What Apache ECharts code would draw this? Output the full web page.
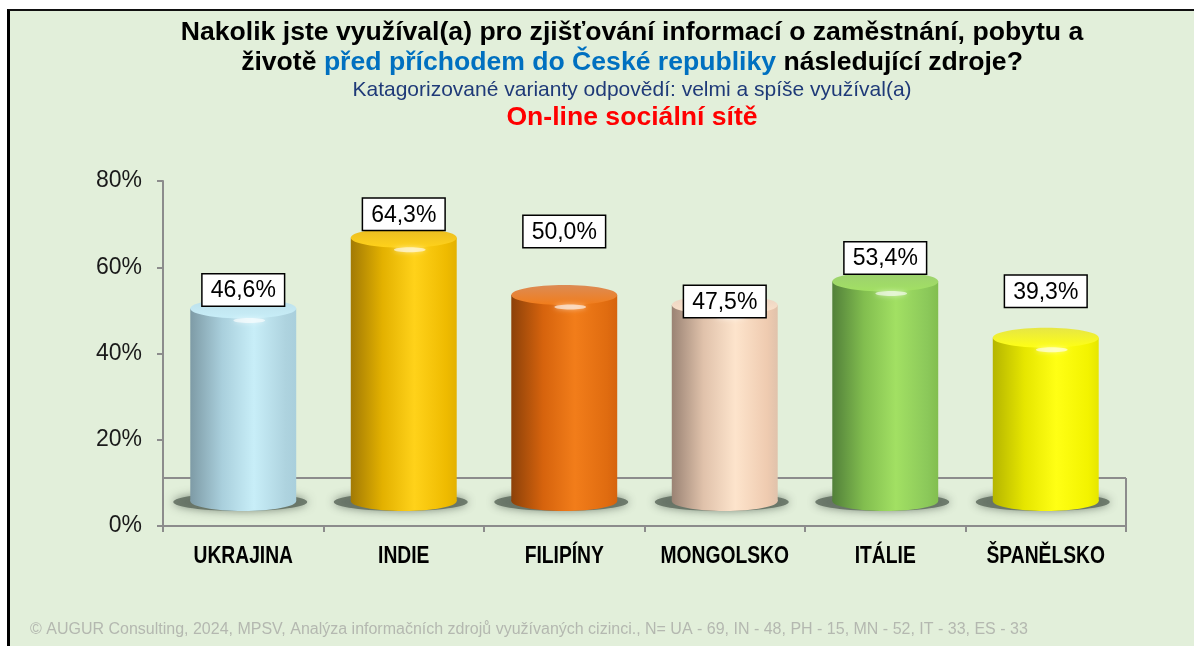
<!DOCTYPE html>
<html>
<head>
<meta charset="utf-8">
<script src="https://cdn.jsdelivr.net/npm/echarts@6/dist/echarts.min.js"></script>
<style>
  html, body { margin: 0; padding: 0; background: #fff; overflow: hidden; }
  #frame {
    position: absolute; left: 7px; top: 9px; width: 1200px; height: 650px;
    background: #e2efda; border-left: 3px solid #000; border-top: 2px solid #111;
  }
  #chart { position: absolute; left: 0; top: 0; width: 1194px; height: 646px; }
</style>
</head>
<body>
<div id="frame"></div>
<div id="chart"></div>
<script>
// data
const categories = ["UKRAJINA", "INDIE", "FILIPÍNY", "MONGOLSKO", "ITÁLIE", "ŠPANĚLSKO"];
const values = [46.6, 64.3, 50.0, 47.5, 53.4, 39.3];
const yMin = 0;
const yMax = 80;
const yStep = 20;

// styles per bar: [dark edge, mid, highlight, right edge, top face]
const barColors = [
  ["#7e9ba6", "#a9cfdc", "#c8eef8", "#aed3df", "#bcdfea"],
  ["#a27a05", "#e3b100", "#ffd21a", "#efbb00", "#e9bb22"],
  ["#8c4109", "#d6630d", "#f27d1a", "#e06c10", "#dc8b55"],
  ["#9a8374", "#e0c2ab", "#fde4cc", "#efcbb0", "#e9d3c1"],
  ["#52803a", "#82be4f", "#a2e063", "#8bc85a", "#9ccf70"],
  ["#b5b500", "#e6e600", "#ffff14", "#f3f300", "#e6e645"]
];
// manual label placement (distance of box bottom above cylinder top)
const labelLift = [3, 8, 48, -12, 8, 31];

// Arial Narrow look for category names: Liberation Sans squeezed horizontally
const arial = '"Liberation Sans", Arial, sans-serif';
const squeeze = 0.82;

const chart = echarts.init(document.getElementById("chart"));

function fmt(v) {
  return v.toFixed(1).replace(".", ",") + "%";
}

function renderCylinder(params, api) {
  const i = api.value(0);
  const v = api.value(1);
  const top = api.coord([i, v]);
  const base = api.coord([i, 0]);
  const w = api.size([1, 0])[0] * 0.66;
  const rx = w / 2;
  const ry = 10;
  const cx = top[0];
  const topY = top[1];
  const baseY = base[1] + 6;
  const c = barColors[i];
  const side = {
    type: "linear", x: 0, y: 0, x2: 1, y2: 0,
    colorStops: [
      { offset: 0, color: c[0] },
      { offset: 0.3, color: c[1] },
      { offset: 0.6, color: c[2] },
      { offset: 0.9, color: c[3] },
      { offset: 1, color: c[1] }
    ]
  };
  return {
    type: "group",
    children: [
      {
        type: "ellipse",
        shape: { cx: cx - 3, cy: baseY + 1, rx: rx + 14, ry: ry - 1 },
        style: { fill: "rgba(95,108,95,0.85)", shadowBlur: 10, shadowColor: "rgba(95,108,95,0.9)" }
      },
      { type: "ellipse", shape: { cx: cx, cy: baseY, rx: rx, ry: ry }, style: { fill: side } },
      { type: "rect", shape: { x: cx - rx, y: topY, width: w, height: baseY - topY }, style: { fill: side } },
      {
        type: "ellipse",
        shape: { cx: cx, cy: topY, rx: rx, ry: ry },
        style: {
          fill: {
            type: "linear", x: 0, y: 0, x2: 0, y2: 1,
            colorStops: [{ offset: 0, color: c[4] }, { offset: 1, color: c[2] }]
          }
        }
      },
      {
        type: "ellipse",
        shape: { cx: cx + 6, cy: topY + ry + 2, rx: rx * 0.3, ry: 2.5 },
        style: { fill: "rgba(255,255,255,0.6)", shadowBlur: 5, shadowColor: "rgba(255,255,255,0.8)" }
      },
      {
        type: "text",
        x: cx,
        y: topY - labelLift[i],
        style: {
          text: fmt(v),
          font: "23px " + arial,
          fill: "#000",
          align: "center",
          verticalAlign: "bottom",
          backgroundColor: "#fff",
          borderColor: "#000",
          borderWidth: 1.5,
          padding: [5, 8, 3, 8]
        }
      }
    ]
  };
}

// category names under the axis, in narrow bold type
function renderCategory(params, api) {
  const i = api.value(0);
  const p = api.coord([i, yMin]);
  return {
    type: "text",
    x: p[0],
    y: p[1] + 31,
    scaleX: squeeze,
    style: {
      text: categories[i],
      font: "bold 23.5px " + arial,
      fill: "#000",
      align: "center",
      verticalAlign: "middle"
    }
  };
}

function label(x, y, text, font, fill, align, rich) {
  const style = { text: text, font: font, fill: fill, align: align, verticalAlign: "middle" };
  if (rich) style.rich = rich;
  return { type: "text", x: x, y: y, style: style };
}

const titleFont = "bold 26.6px " + arial;

const option = {
  backgroundColor: "transparent",
  animation: false,
  graphic: [
    // floor of the 3D plot
    { type: "line", shape: { x1: 163, y1: 478, x2: 1126, y2: 478 }, style: { stroke: "#8c8c8c", lineWidth: 2 }, z: 0 },
    { type: "line", shape: { x1: 1126, y1: 478, x2: 1126, y2: 532 }, style: { stroke: "#8c8c8c", lineWidth: 2 }, z: 0 },
    label(632, 33, "Nakolik jste využíval(a) pro zjišťování informací o zaměstnání, pobytu a",
      titleFont, "#000", "center"),
    label(632, 63, "{k|životě }{b|před příchodem do České republiky}{k| následující zdroje?}",
      titleFont, "#000", "center", {
        k: { font: titleFont, fill: "#000" },
        b: { font: titleFont, fill: "#0070c0" }
      }),
    label(632, 90, "Katagorizované varianty odpovědí: velmi a spíše využíval(a)",
      "21px " + arial, "#1f3a78", "center"),
    label(632, 118, "On-line sociální sítě", titleFont, "#ff0000", "center"),
    label(30, 630, "© AUGUR Consulting, 2024, MPSV, Analýza informačních zdrojů využívaných cizinci., N= UA - 69, IN - 48, PH - 15, MN - 52, IT - 33, ES - 33",
      "16px " + arial, "#b4b8b0", "left")
  ],
  grid: [
    { left: 163, right: 68, top: 181, bottom: 120 },
    { left: 163, right: 68, top: 175, bottom: 151 }
  ],
  xAxis: [
    {
      type: "category", gridIndex: 0, data: categories,
      axisLine: { lineStyle: { color: "#8c8c8c", width: 2 } },
      axisTick: { show: true, interval: 0, length: 6, lineStyle: { color: "#8c8c8c", width: 2 } },
      axisLabel: { show: false }
    },
    { type: "category", gridIndex: 1, data: categories, show: false }
  ],
  yAxis: [
    {
      type: "value", gridIndex: 0, min: yMin, max: yMax, interval: yStep,
      splitLine: { show: false },
      axisLine: { show: true, lineStyle: { color: "#8c8c8c", width: 2 } },
      axisTick: { show: true, length: 6, lineStyle: { color: "#8c8c8c", width: 2 } },
      axisLabel: { formatter: "{value}%", color: "#1a1a1a", fontFamily: arial, fontSize: 23, margin: 21 }
    },
    { type: "value", gridIndex: 1, min: yMin, max: yMax, show: false, splitLine: { show: false } }
  ],
  series: [
    {
      type: "custom",
      xAxisIndex: 1,
      yAxisIndex: 1,
      renderItem: renderCylinder,
      data: values.map(function (v, i) { return [i, v]; }),
      z: 5
    },
    {
      type: "custom",
      xAxisIndex: 0,
      yAxisIndex: 0,
      renderItem: renderCategory,
      data: categories.map(function (c, i) { return [i, yMin]; }),
      silent: true,
      z: 5
    }
  ]
};

chart.setOption(option);
</script>
</body>
</html>
